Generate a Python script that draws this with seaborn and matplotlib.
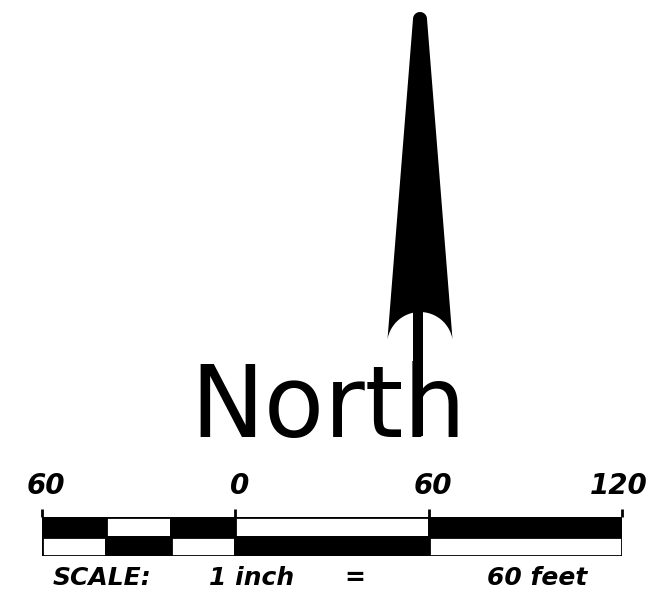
import numpy as np
import matplotlib
matplotlib.use("Agg")
import matplotlib.pyplot as plt
import matplotlib.transforms as mtransforms
import seaborn as sns

# scale bar data (feet)
seg_edges = [-60, -40, -20, 0, 60, 120]
top_row = ["black", "white", "black", "white", "black"]
bottom_row = ["white", "black", "white", "black", "white"]
tick_feet = [-60, 0, 60, 120]
tick_text = ["60", "0", "60", "120"]
label_shift_px = [4, 4, 4, -3]
scale_words = ["SCALE:", "1 inch", "=", "60 feet"]
title = "North"

sns.set_theme(style="white")
plt.rcParams["font.family"] = ["DejaVu Sans"]
plt.rcParams["text.color"] = "black"
plt.rcParams["xtick.color"] = "black"

W, H = 652, 601
fig = plt.figure(figsize=(W / 100, H / 100), dpi=100)

# overlay in pixel units for the north arrow and the words
ax = fig.add_axes([0, 0, 1, 1])
ax.set_xlim(0, W)
ax.set_ylim(H, 0)
ax.axis("off")

# arrow outline: rounded tip, straight sides, notched base
cx = 420
tip = np.linspace(np.pi, 0, 20)
tip_x = cx + 7 * np.cos(tip)
tip_y = 19 - 7 * np.sin(tip)
notch = np.radians(np.linspace(10, 170, 40))
notch_x = cx + 33 * np.cos(notch)
notch_y = 345 - 33 * np.sin(notch)
arrow_x = np.concatenate([tip_x, notch_x])
arrow_y = np.concatenate([tip_y, notch_y])
ax.fill(arrow_x, arrow_y, color="black", lw=0)
ax.plot([418, 418], [310, 436], color="black", lw=7.2, solid_capstyle="butt")

ax.text(190, 437, title, fontsize=71, color="black", va="baseline", ha="left")

word_x = [102, 252, 355, 537]
for s, x in zip(scale_words, word_x):
    ax.text(x, 578, s, fontsize=18, style="italic", fontweight="bold",
            va="center", ha="center", color="black")

# scale bar drawn in feet
sax = fig.add_axes([42 / W, (H - 556) / H, 580 / W, 39 / H])
lefts = seg_edges[:-1]
widths = np.diff(seg_edges)
sax.barh(1.5, widths, left=lefts, height=1, color=top_row, edgecolor="black", lw=2)
sax.barh(0.5, widths, left=lefts, height=1, color=bottom_row, edgecolor="black", lw=2)
sax.set_xlim(seg_edges[0], seg_edges[-1])
sax.set_ylim(0, 2)
sax.set_yticks([])
sax.set_xticks(tick_feet)
sax.set_xticklabels(tick_text, fontsize=20, style="italic", fontweight="bold", color="black")
sax.tick_params(axis="x", top=True, labeltop=True, bottom=False, labelbottom=False,
                length=6, width=2, pad=6, color="black", direction="out")
sns.despine(ax=sax, left=True, bottom=True)
sax.spines["top"].set_visible(False)
sax.set_facecolor("none")
for lab, dx in zip(sax.get_xticklabels(), label_shift_px):
    shift = mtransforms.ScaledTranslation(dx / 100, 0, fig.dpi_scale_trans)
    lab.set_clip_on(False)
    lab.set_transform(lab.get_transform() + shift)

fig.savefig("out.png", dpi=100)
